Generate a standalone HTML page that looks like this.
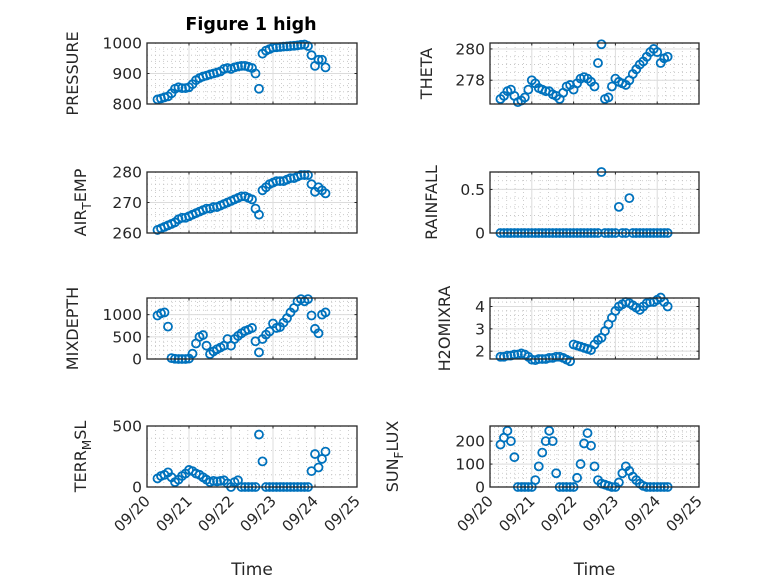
<!DOCTYPE html>
<html><head><meta charset="utf-8"><style>
body{margin:0;background:#fff}
svg{display:block;font-family:"DejaVu Sans","Liberation Sans",sans-serif}
</style></head><body>
<svg id="fig" width="778" height="583" viewBox="0 0 778 583">
<rect width="778" height="583" fill="#fff"/>
<text x="251" y="30" text-anchor="middle" font-size="17.5" font-weight="bold" fill="#000">Figure 1 high</text>
</svg>
<script>
const hours = [6,8,10,12,14,16,18,20,22,24,26,28,30,32,34,36,38,40,42,44,46,48,50,52,54,56,58,60,62,64,66,68,70,72,74,76,78,80,82,84,86,88,90,92,94,96,98,100,102];
const xTickLabels = ["09/20","09/21","09/22","09/23","09/24","09/25"];
const pressure = [815,818,822,825,835,850,855,852,852,855,865,878,885,890,893,897,900,903,907,915,918,915,920,923,925,925,922,918,900,850,965,975,980,985,986,987,988,989,990,991,992,994,995,990,960,925,945,945,920];
const theta = [276.8,277.0,277.3,277.4,277.0,276.6,276.7,276.9,277.4,278.0,277.8,277.5,277.4,277.3,277.3,277.1,277.0,276.8,277.2,277.6,277.7,277.4,277.8,278.1,278.2,278.1,277.9,277.6,279.1,280.3,276.8,276.9,277.6,278.1,277.9,277.8,277.7,278.0,278.4,278.7,279.0,279.2,279.5,279.8,280.0,279.8,279.1,279.4,279.5];
const airTemp = [261,261.5,262,262.5,263,263.5,264.5,265,265,265.5,266,266.5,267,267.5,268,268,268.5,268.5,269,269.5,270,270.5,271,271.5,272,272,271.5,271,268,266,274,275,276,276.5,277,277,277,277.5,278,278,278.5,279,279,279,276,273.5,275,274,273];
const rainfall = [0,0,0,0,0,0,0,0,0,0,0,0,0,0,0,0,0,0,0,0,0,0,0,0,0,0,0,0,0,0.7,0,0,0,0,0.3,0,0,0.4,0,0,0,0,0,0,0,0,0,0,0];
const mixDepth = [980,1030,1050,730,20,5,0,0,0,10,120,350,500,540,300,110,170,220,260,300,450,300,450,520,580,630,660,700,400,150,450,550,620,800,700,720,820,920,1050,1150,1300,1350,1300,1350,980,680,580,1000,1050];
const h2oMixRa = [1.75,1.75,1.8,1.8,1.85,1.85,1.9,1.85,1.75,1.62,1.6,1.65,1.65,1.65,1.7,1.7,1.75,1.75,1.7,1.62,1.55,2.3,2.25,2.2,2.15,2.1,2.05,2.3,2.5,2.6,2.9,3.2,3.5,3.8,4.0,4.1,4.2,4.15,4.05,3.95,3.85,4.0,4.15,4.2,4.2,4.3,4.4,4.2,4.0];
const terrMsl = [70,90,100,120,80,40,60,90,110,140,130,110,100,80,60,40,50,45,50,55,30,0,40,55,0,0,0,0,0,430,210,0,0,0,0,0,0,0,0,0,0,0,0,0,130,270,160,230,290];
const sunFlux = [185,215,245,200,130,0,0,0,0,0,30,90,150,200,245,200,60,0,0,0,0,0,40,100,190,235,180,90,30,15,10,5,0,0,20,60,90,70,45,30,15,5,0,0,0,0,0,0,0];

const NS='http://www.w3.org/2000/svg';
const svg=document.getElementById('fig');
function mk(tag,attrs,parent){const e=document.createElementNS(NS,tag);for(const k in attrs)e.setAttribute(k,attrs[k]);(parent||svg).appendChild(e);return e;}

const cols=[{x0:147,x1:357},{x0:490,x1:699}];
const rows=[{y0:43,y1:104},{y0:172,y1:233},{y0:298,y1:359},{y0:426,y1:487}];

const panels=[
 {name:'pressure',vals:pressure,c:0,r:0,ymin:800,ymax:1000,ticks:[800,900,1000],minor:20,label:['PRESSURE'],lx:78},
 {name:'theta',vals:theta,c:1,r:0,ymin:276.48,ymax:280.38,ticks:[278,280],minor:0.5,label:['THETA'],lx:432},
 {name:'air-temp',vals:airTemp,c:0,r:1,ymin:260,ymax:280,ticks:[260,270,280],minor:2,label:['AIR','T','EMP'],lx:86},
 {name:'rainfall',vals:rainfall,c:1,r:1,ymin:0,ymax:0.7,ticks:[0,0.5],minor:0.1,label:['RAINFALL'],lx:437},
 {name:'mixdepth',vals:mixDepth,c:0,r:2,ymin:0,ymax:1375,ticks:[0,500,1000],minor:100,label:['MIXDEPTH'],lx:78},
 {name:'h2omixra',vals:h2oMixRa,c:1,r:2,ymin:1.65,ymax:4.38,ticks:[2,3,4],minor:0.2,label:['H2OMIXRA'],lx:450},
 {name:'terr-msl',vals:terrMsl,c:0,r:3,ymin:0,ymax:500,ticks:[0,500],minor:100,label:['TERR','M','SL'],lx:86},
 {name:'sun-flux',vals:sunFlux,c:1,r:3,ymin:0,ymax:266,ticks:[0,100,200],minor:20,label:['SUN','F','LUX'],lx:398}
];

panels.forEach(p=>{
 const C=cols[p.c],R=rows[p.r];
 const g=mk('g',{});
 
 
 const xs=d=>C.x0+(C.x1-C.x0)*d/5;
 const ys=v=>R.y1-(R.y1-R.y0)*(v-p.ymin)/(p.ymax-p.ymin);
 mk('rect',{x:C.x0,y:R.y0,width:C.x1-C.x0,height:R.y1-R.y0,fill:'#fff'},g);
 for(let d=0.2;d<5;d+=0.2){if(Math.abs(d-Math.round(d))<1e-6)continue;const x=xs(d);
  mk('line',{x1:x,x2:x,y1:R.y0,y2:R.y1,stroke:'#c0c0c0','stroke-width':0.8,'stroke-dasharray':'1,3'},g);}
 for(let v=Math.ceil(p.ymin/p.minor)*p.minor;v<p.ymax;v+=p.minor){const y=ys(v);
  mk('line',{x1:C.x0,x2:C.x1,y1:y,y2:y,stroke:'#c0c0c0','stroke-width':0.8,'stroke-dasharray':'1,3'},g);}
 for(let d=1;d<5;d++){const x=xs(d);mk('line',{x1:x,x2:x,y1:R.y0,y2:R.y1,stroke:'#dcdcdc','stroke-width':1},g);}
 p.ticks.forEach(v=>{const y=ys(v);mk('line',{x1:C.x0,x2:C.x1,y1:y,y2:y,stroke:'#dcdcdc','stroke-width':1},g);});
 for(let d=0;d<=5;d++){const x=xs(d);
  mk('line',{x1:x,x2:x,y1:R.y1,y2:R.y1-2.5,stroke:'#262626'},g);
  mk('line',{x1:x,x2:x,y1:R.y0,y2:R.y0+2.5,stroke:'#262626'},g);
  if(p.r===3){const t=mk('text',{x:x+4,y:R.y1+15,'font-size':15,fill:'#262626','text-anchor':'end',transform:`rotate(-45 ${x+4} ${R.y1+15})`},g);
   t.textContent=xTickLabels[d];
   
   }
 }
 p.ticks.forEach(v=>{const y=ys(v);
  mk('line',{x1:C.x0,x2:C.x0+2.5,y1:y,y2:y,stroke:'#262626'},g);
  mk('line',{x1:C.x1,x2:C.x1-2.5,y1:y,y2:y,stroke:'#262626'},g);
  const t=mk('text',{x:C.x0-5,y:y+5.5,'font-size':15.5,fill:'#262626','text-anchor':'end'},g);
  t.textContent=String(v);
  
  
 });
 p.vals.forEach((v,i)=>{
  const c=mk('circle',{cx:xs(hours[i]/24),cy:ys(v),r:4,fill:'none',stroke:'#0072BD','stroke-width':1.8},g);
  
  
 });
 mk('rect',{x:C.x0,y:R.y0,width:C.x1-C.x0,height:R.y1-R.y0,fill:'none',stroke:'#262626','stroke-width':1.3},g);
 const cy=(R.y0+R.y1)/2;
 const t=mk('text',{x:p.lx,y:cy,'font-size':16,fill:'#262626','text-anchor':'middle',transform:`rotate(-90 ${p.lx} ${cy})`},g);
 
 
 if(p.label.length===1){t.textContent=p.label[0];}
 else{const a=mk('tspan',{},t);a.textContent=p.label[0];
  const b=mk('tspan',{dy:5,'font-size':12},t);b.textContent=p.label[1];
  const c=mk('tspan',{dy:-5},t);c.textContent=p.label[2];}
 if(p.r===3){const xt=mk('text',{x:(C.x0+C.x1)/2,y:575,'font-size':17,fill:'#262626','text-anchor':'middle'},g);
  xt.textContent='Time';
  
  }
});
</script>
</body></html>
